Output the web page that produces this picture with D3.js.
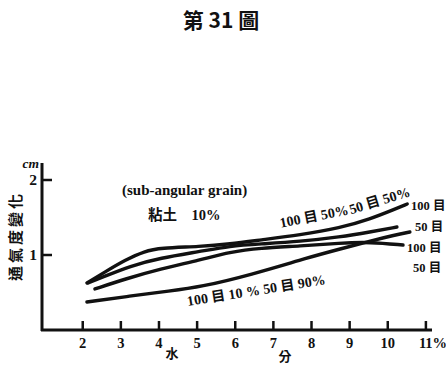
<!DOCTYPE html>
<html>
<head>
<meta charset="utf-8">
<script src="https://cdn.jsdelivr.net/npm/d3@7/dist/d3.min.js"></script>
<style>
  html, body { margin: 0; padding: 0; background: #fff; }
  svg { display: block; }
  text { fill: #111; }
</style>
</head>
<body>
<svg id="chart" width="446" height="370"></svg>
<script>
// Water content (%) and air-permeability change (cm) for each mixture
const curveA = [[2.11,0.627],[2.58,0.773],[3.11,0.933],[3.63,1.053],[4.03,1.093],[5.08,1.113],[5.86,1.147],[6.65,1.2],[7.70,1.267],[8.75,1.36],[9.54,1.48],[10.19,1.613],[10.51,1.68]];
const curveB = [[2.14,0.627],[2.53,0.707],[3.24,0.853],[4.03,0.96],[5.08,1.047],[5.86,1.12],[6.65,1.147],[7.70,1.18],[8.75,1.24],[9.54,1.307],[10.24,1.373]];
const curveC = [[2.32,0.547],[3.11,0.68],[4.03,0.813],[5.08,0.933],[5.86,1.04],[6.65,1.093],[7.70,1.12],[8.75,1.16],[9.54,1.173],[10.40,1.133]];
const curveD = [[2.11,0.373],[3.24,0.453],[4.29,0.52],[5.08,0.573],[6.39,0.733],[7.96,0.973],[8.75,1.08],[9.54,1.187],[10.19,1.267],[10.58,1.307]];
const seriesList = [curveA, curveB, curveC, curveD];

const xTicks = [2, 3, 4, 5, 6, 7, 8, 9, 10, 11];
const yTicks = [1, 2];
const rightLabels = ["100 目", "50 目", "100 目", "50 目"];

const svg = d3.select("#chart");
const x = d3.scaleLinear().domain([1, 11]).range([44.6, 425.9]);
const y = d3.scaleLinear().domain([0, 2]).range([330, 180]);

const serif = "'Liberation Serif', 'DejaVu Serif', 'Noto Sans CJK TC', serif";
const cjk = "'Noto Sans CJK TC', 'Noto Sans CJK JP', sans-serif";

// Title
svg.append("text").attr("x", 221).attr("y", 28)
  .attr("text-anchor", "middle").attr("font-family", cjk)
  .attr("font-weight", 700).attr("font-size", 21)
  .attr("xml:space", "preserve").text("第 31 圖");

// Axes
const axisColor = "#111";
svg.append("line").attr("x1", 42).attr("x2", 42).attr("y1", 331).attr("y2", 163)
  .attr("stroke", axisColor).attr("stroke-width", 3);
svg.append("line").attr("x1", 41).attr("x2", 432).attr("y1", 330).attr("y2", 330)
  .attr("stroke", axisColor).attr("stroke-width", 3);

svg.append("g").selectAll("line").data(xTicks).join("line")
  .attr("x1", d => x(d)).attr("x2", d => x(d))
  .attr("y1", 330).attr("y2", 321)
  .attr("stroke", axisColor).attr("stroke-width", 2.5);
svg.append("g").selectAll("text").data(xTicks).join("text")
  .attr("x", d => d === 11 ? x(d) - 7 : x(d)).attr("y", 348)
  .attr("text-anchor", d => d === 11 ? "start" : "middle")
  .attr("font-family", serif)
  .attr("font-weight", 700).attr("font-size", 14.5)
  .text(d => d === 11 ? d + "%" : d);

svg.append("g").selectAll("line").data(yTicks).join("line")
  .attr("x1", 42).attr("x2", 52)
  .attr("y1", d => y(d)).attr("y2", d => y(d))
  .attr("stroke", axisColor).attr("stroke-width", 2.5);
svg.append("g").selectAll("text").data(yTicks).join("text")
  .attr("x", 37).attr("y", d => y(d) + 5)
  .attr("text-anchor", "end").attr("font-family", serif)
  .attr("font-weight", 700).attr("font-size", 15.5).text(d => d);

svg.append("text").attr("x", 39).attr("y", 168)
  .attr("text-anchor", "end").attr("font-family", serif)
  .attr("font-style", "italic").attr("font-weight", 700)
  .attr("font-size", 13.5).text("cm");

// Axis titles
svg.append("text").attr("transform", "translate(21,236) rotate(-90)")
  .attr("text-anchor", "middle").attr("font-family", cjk)
  .attr("font-weight", 700).attr("font-size", 15)
  .attr("letter-spacing", 3).text("通氣度變化");
svg.append("text").attr("x", 172).attr("y", 358)
  .attr("text-anchor", "middle").attr("font-family", cjk)
  .attr("font-weight", 700).attr("font-size", 13).text("水");
svg.append("text").attr("x", 285).attr("y", 361)
  .attr("text-anchor", "middle").attr("font-family", cjk)
  .attr("font-weight", 700).attr("font-size", 13).text("分");

// Curves
const line = d3.line().x(d => x(d[0])).y(d => y(d[1])).curve(d3.curveBasis);
svg.append("g").selectAll("path").data(seriesList).join("path")
  .attr("d", line).attr("fill", "none")
  .attr("stroke", "#111").attr("stroke-width", 3.4)
  .attr("stroke-linecap", "round");

// Annotations
svg.append("text").attr("x", 122).attr("y", 195)
  .attr("font-family", serif).attr("font-weight", 700)
  .attr("font-size", 15).text("(sub-angular grain)");
svg.append("text").attr("x", 148).attr("y", 220)
  .attr("font-family", serif).attr("font-weight", 700)
  .attr("font-size", 14.5).attr("xml:space", "preserve").text("粘土　10%");

svg.append("text").attr("transform", "translate(315,221) rotate(-11)")
  .attr("text-anchor", "middle").attr("font-family", serif)
  .attr("font-weight", 700).attr("font-size", 14).text("100 目 50%");
svg.append("text").attr("transform", "translate(381,205) rotate(-17)")
  .attr("text-anchor", "middle").attr("font-family", serif)
  .attr("font-weight", 700).attr("font-size", 14).text("50 目 50%");
svg.append("text").attr("transform", "translate(257,295) rotate(-9)")
  .attr("text-anchor", "middle").attr("font-family", serif)
  .attr("font-weight", 700).attr("font-size", 14).text("100 目 10 %  50 目 90%");

const rightPos = [[411, 210], [415, 231], [407, 252], [413, 272]];
svg.append("g").selectAll("text").data(rightLabels).join("text")
  .attr("x", (d, i) => rightPos[i][0]).attr("y", (d, i) => rightPos[i][1])
  .attr("font-family", serif).attr("font-weight", 700)
  .attr("font-size", 12.5).text(d => d);
</script>
</body>
</html>
